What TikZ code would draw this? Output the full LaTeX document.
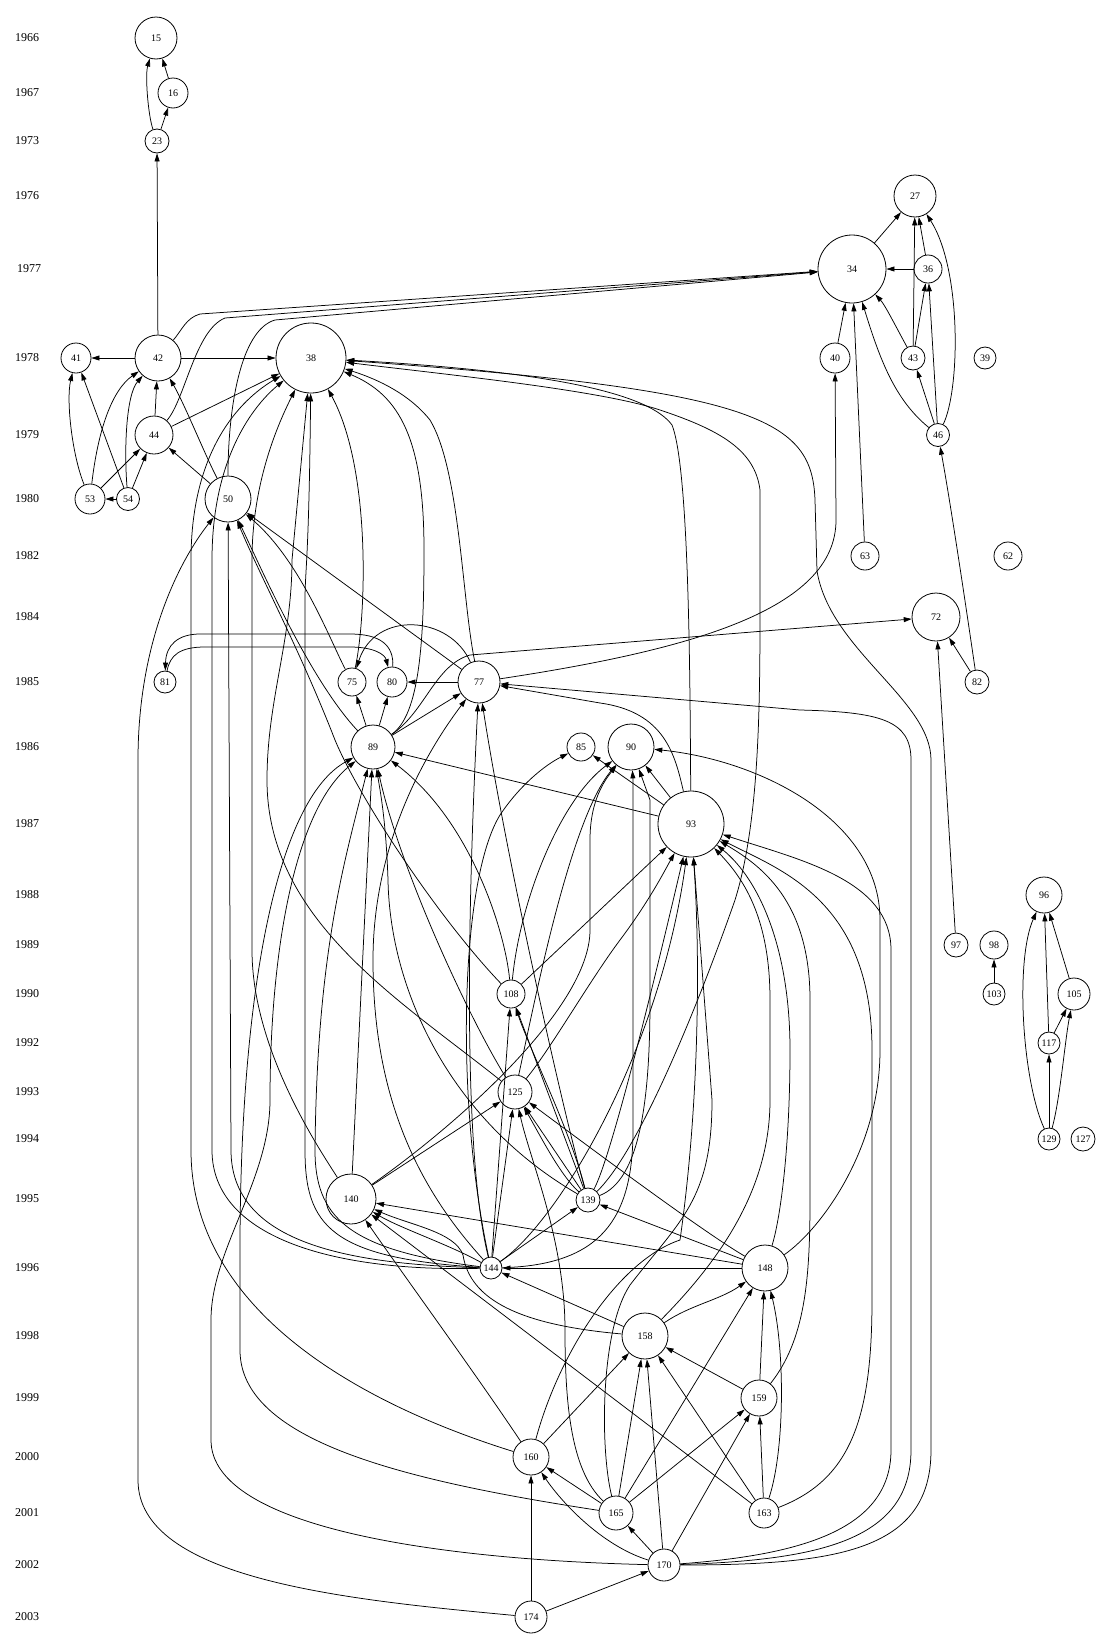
\documentclass[tikz,border=0pt]{standalone}
\usepackage{fontspec}
\setmainfont{Liberation Serif}
\usetikzlibrary{arrows.meta}
\begin{document}
\begin{tikzpicture}[x=1pt,y=-1pt,
  nd/.style={circle,draw,line width=0.8pt,inner sep=0pt,font=\fontsize{10}{12}\selectfont},
  yr/.style={font=\fontsize{12}{14}\selectfont},
  e/.style={draw,line width=0.75pt,-{Triangle[length=8pt,width=5pt]}}]
\path[use as bounding box] (0,0) rectangle (1100,1649);
% year labels
\node[yr] (y1966) at (27,38) {1966};
\node[yr] (y1967) at (27,93) {1967};
\node[yr] (y1973) at (27,141) {1973};
\node[yr] (y1976) at (27,196) {1976};
\node[yr] (y1977) at (29,269) {1977};
\node[yr] (y1978) at (27,358) {1978};
\node[yr] (y1979) at (27,435) {1979};
\node[yr] (y1980) at (27,499) {1980};
\node[yr] (y1982) at (27,556) {1982};
\node[yr] (y1984) at (27,617) {1984};
\node[yr] (y1985) at (27,682) {1985};
\node[yr] (y1986) at (27,747) {1986};
\node[yr] (y1987) at (27,824) {1987};
\node[yr] (y1988) at (27,895) {1988};
\node[yr] (y1989) at (27,945) {1989};
\node[yr] (y1990) at (27,994) {1990};
\node[yr] (y1992) at (27,1043) {1992};
\node[yr] (y1993) at (27,1092) {1993};
\node[yr] (y1994) at (27,1139) {1994};
\node[yr] (y1995) at (27,1199) {1995};
\node[yr] (y1996) at (27,1268) {1996};
\node[yr] (y1998) at (27,1336) {1998};
\node[yr] (y1999) at (27,1398) {1999};
\node[yr] (y2000) at (27,1457) {2000};
\node[yr] (y2001) at (27,1513) {2001};
\node[yr] (y2002) at (27,1565) {2002};
\node[yr] (y2003) at (27,1617) {2003};
% nodes
\node[nd,minimum size=42pt] (n15) at (156,38) {15};
\node[nd,minimum size=30pt] (n16) at (173,93) {16};
\node[nd,minimum size=24pt] (n23) at (157,141) {23};
\node[nd,minimum size=42pt] (n27) at (915,196) {27};
\node[nd,minimum size=68pt] (n34) at (852,269) {34};
\node[nd,minimum size=28pt] (n36) at (928,269) {36};
\node[nd,minimum size=70pt] (n38) at (311,358) {38};
\node[nd,minimum size=22pt] (n39) at (985,358) {39};
\node[nd,minimum size=30pt] (n40) at (835,358) {40};
\node[nd,minimum size=30pt] (n41) at (76,358) {41};
\node[nd,minimum size=46pt] (n42) at (158,358) {42};
\node[nd,minimum size=24pt] (n43) at (913,358) {43};
\node[nd,minimum size=38pt] (n44) at (154,435) {44};
\node[nd,minimum size=23pt] (n46) at (938,435) {46};
\node[nd,minimum size=46pt] (n50) at (228,499) {50};
\node[nd,minimum size=30pt] (n53) at (90,499) {53};
\node[nd,minimum size=23pt] (n54) at (128,499) {54};
\node[nd,minimum size=28pt] (n62) at (1008,556) {62};
\node[nd,minimum size=28pt] (n63) at (865,556) {63};
\node[nd,minimum size=48pt] (n72) at (936,617) {72};
\node[nd,minimum size=28pt] (n75) at (352,682) {75};
\node[nd,minimum size=42pt] (n77) at (479,682) {77};
\node[nd,minimum size=30pt] (n80) at (392,682) {80};
\node[nd,minimum size=22pt] (n81) at (165,682) {81};
\node[nd,minimum size=24pt] (n82) at (977,682) {82};
\node[nd,minimum size=28pt] (n85) at (581,747) {85};
\node[nd,minimum size=44pt] (n89) at (373,747) {89};
\node[nd,minimum size=46pt] (n90) at (631,747) {90};
\node[nd,minimum size=66pt] (n93) at (691,824) {93};
\node[nd,minimum size=36pt] (n96) at (1044,895) {96};
\node[nd,minimum size=24pt] (n97) at (956,945) {97};
\node[nd,minimum size=28pt] (n98) at (994,945) {98};
\node[nd,minimum size=22pt] (n103) at (994,994) {103};
\node[nd,minimum size=32pt] (n105) at (1074,994) {105};
\node[nd,minimum size=28pt] (n108) at (511,994) {108};
\node[nd,minimum size=22pt] (n117) at (1049,1043) {117};
\node[nd,minimum size=34pt] (n125) at (515,1092) {125};
\node[nd,minimum size=24pt] (n127) at (1083,1139) {127};
\node[nd,minimum size=22pt] (n129) at (1049,1139) {129};
\node[nd,minimum size=24pt] (n139) at (588,1200) {139};
\node[nd,minimum size=50pt] (n140) at (351,1199) {140};
\node[nd,minimum size=22pt] (n144) at (491,1268) {144};
\node[nd,minimum size=46pt] (n148) at (765,1268) {148};
\node[nd,minimum size=46pt] (n158) at (645,1336) {158};
\node[nd,minimum size=36pt] (n159) at (759,1398) {159};
\node[nd,minimum size=36pt] (n160) at (531,1457) {160};
\node[nd,minimum size=30pt] (n163) at (764,1513) {163};
\node[nd,minimum size=34pt] (n165) at (616,1513) {165};
\node[nd,minimum size=32pt] (n170) at (664,1565) {170};
\node[nd,minimum size=32pt] (n174) at (531,1617) {174};
% ---- top edges
\draw[e] (n16) -- (n15);
\draw[e] (n23) .. controls (148,115) and (145,75) .. (n15);
\draw[e] (n23) -- (n16);
\draw[e] (n42) -- (n23);
\draw[e] (n42) -- (n41);
\draw[e] (n42) -- (n38);
\draw[e] (n44) -- (n42);
\draw[e] (n53) .. controls (72,455) and (66,400) .. (n41);
\draw[e] (n53) .. controls (98,430) and (112,390) .. (n42);
\draw[e] (n53) -- (n44);
\draw[e] (n54) -- (n53);
\draw[e] (n54) -- (n41);
\draw[e] (n54) .. controls (124,450) and (126,395) .. (n42);
\draw[e] (n54) -- (n44);
\draw[e] (n50) .. controls (205,455) and (185,405) .. (n42);
\draw[e] (n50) -- (n44);
\draw[e] (n44) -- (n38);
\draw[e] (n42) .. controls (182,330) and (186,318) .. (200,314) -- (n34);
\draw[e] (n44) .. controls (185,400) and (195,330) .. (225,318) -- (n34);
\draw[e] (n50) .. controls (228,410) and (240,330) .. (275,320) -- (n34);
\draw[e] (n34) -- (n27);
\draw[e] (n36) -- (n34);
\draw[e] (n36) -- (n27);
\draw[e] (n43) -- (n27);
\draw[e] (n43) -- (n36);
\draw[e] (n43) .. controls (895,325) and (885,305) .. (n34);
\draw[e] (n46) -- (n43);
\draw[e] (n46) -- (n36);
\draw[e] (n46) .. controls (895,400) and (880,360) .. (n34);
\draw[e] (n46) .. controls (960,390) and (962,270) .. (n27);
\draw[e] (n40) -- (n34);
\draw[e] (n63) -- (n34);
\draw[e] (n82) -- (n72);
\draw[e] (n82) .. controls (965,600) and (950,500) .. (n46);
\draw[e] (n97) -- (n72);
\draw[e] (n103) -- (n98);
\draw[e] (n105) -- (n96);
\draw[e] (n117) -- (n96);
\draw[e] (n117) -- (n105);
\draw[e] (n129) .. controls (1022,1080) and (1015,960) .. (n96);
\draw[e] (n129) -- (n117);
\draw[e] (n129) .. controls (1060,1100) and (1065,1040) .. (n105);
% ---- middle edges
\draw[e] (n75) .. controls (330,640) and (300,560) .. (n50);
\draw[e] (n77) -- (n50);
\draw[e] (n77) .. controls (462,600) and (460,470) .. (430,420) .. controls (410,395) and (380,380) .. (n38);
\draw[e] (n75) .. controls (366,620) and (372,470) .. (n38);
\draw[e] (n77) -- (n80);
\draw[e] (n77) .. controls (450,615) and (375,610) .. (n75);
\draw[e] (n77) .. controls (690,650) and (836,610) .. (836,520) -- (n40);
\draw[e] (n89) .. controls (425,712) and (435,665) .. (470,655) -- (n72);
\draw[e] (n89) -- (n75);
\draw[e] (n89) -- (n80);
\draw[e] (n89) -- (n77);
\draw[e] (n89) .. controls (310,680) and (262,570) .. (n50);
\draw[e] (n89) .. controls (420,715) and (424,640) .. (424,550) .. controls (424,440) and (400,395) .. (n38);
\draw[e] (n81) .. controls (170,655) and (180,647) .. (205,647) -- (350,647) .. controls (375,647) and (385,655) .. (n80);
\draw[e] (n80) .. controls (394,645) and (380,634) .. (350,634) -- (200,634) .. controls (178,634) and (166,645) .. (n81);
\draw[e] (n93) -- (n89);
\draw[e] (n93) -- (n90);
\draw[e] (n93) -- (n85);
\draw[e] (n93) .. controls (675,755) and (665,712) .. (600,703) -- (n77);
\draw[e] (n93) .. controls (690,700) and (690,470) .. (672,425) .. controls (650,395) and (560,372) .. (n38);
\draw[e] (n108) .. controls (440,920) and (360,800) .. (335,740) .. controls (300,650) and (262,580) .. (n50);
\draw[e] (n108) .. controls (505,930) and (470,820) .. (n89);
\draw[e] (n108) .. controls (520,900) and (560,800) .. (n90);
\draw[e] (n108) -- (n93);
\draw[e] (n125) .. controls (400,1000) and (267,920) .. (267,780) .. controls (267,700) and (292,640) .. (292,560) -- (n38);
\draw[e] (n125) .. controls (470,1020) and (400,870) .. (n89);
\draw[e] (n125) .. controls (535,1000) and (570,820) .. (n90);
\draw[e] (n125) .. controls (550,1050) and (590,980) .. (620,940) .. controls (650,900) and (665,870) .. (n93);
\draw[e] (n139) .. controls (640,1150) and (700,1000) .. (735,900) .. controls (760,820) and (760,700) .. (760,600) -- (760,490) .. controls (755,450) and (720,430) .. (660,410) .. controls (600,390) and (450,375) .. (n38);
\draw[e] (n139) .. controls (560,1100) and (505,850) .. (n77);
\draw[e] (n139) -- (n108);
\draw[e] (n139) .. controls (570,1130) and (530,1050) .. (n108);
\draw[e] (n139) -- (n125);
\draw[e] (n139) .. controls (560,1175) and (540,1135) .. (n125);
\draw[e] (n139) .. controls (640,1180) and (650,1100) .. (650,1000) -- (650,800) -- (n90);
\draw[e] (n139) .. controls (610,1160) and (650,1000) .. (n93);
\draw[e] (n139) .. controls (450,1120) and (390,990) .. (388,880) .. controls (386,820) and (380,790) .. (n89);
\draw[e] (n140) -- (n89);
\draw[e] (n140) .. controls (320,1150) and (252,1050) .. (252,950) -- (252,560) .. controls (252,480) and (280,420) .. (n38);
\draw[e] (n140) -- (n125);
\draw[e] (n140) .. controls (450,1130) and (590,1010) .. (590,930) -- (590,840) .. controls (590,800) and (605,780) .. (n90);
% ---- lower edges
\draw[e] (n144) -- (n139);
\draw[e] (n144) -- (n125);
\draw[e] (n144) -- (n108);
\draw[e] (n144) .. controls (450,1245) and (400,1228) .. (n140);
\draw[e] (n144) .. controls (345,1250) and (315,1215) .. (315,1150) .. controls (317,950) and (345,860) .. (n89);
\draw[e] (n144) .. controls (330,1258) and (305,1225) .. (305,1150) -- (305,600) .. controls (305,570) and (309,560) .. (n38);
\draw[e] (n144) .. controls (462,1150) and (468,900) .. (n77);
\draw[e] (n144) .. controls (420,1190) and (373,1100) .. (373,960) .. controls (373,850) and (420,760) .. (n77);
\draw[e] (n144) .. controls (560,1220) and (660,1050) .. (n93);
\draw[e] (n144) .. controls (600,1265) and (633,1220) .. (633,1130) -- (633,780) -- (n90);
\draw[e] (n144) .. controls (455,1100) and (460,880) .. (500,815) .. controls (520,785) and (545,765) .. (n85);
\draw[e] (n144) .. controls (340,1272) and (212,1240) .. (212,1150) -- (212,560) .. controls (212,450) and (260,400) .. (n38);
\draw[e] (n144) .. controls (340,1264) and (231,1240) .. (231,1150) -- (n50);
\draw[e] (n148) -- (n144);
\draw[e] (n148) -- (n139);
\draw[e] (n148) -- (n140);
\draw[e] (n148) .. controls (700,1230) and (580,1140) .. (n125);
\draw[e] (n148) .. controls (820,1230) and (880,1150) .. (880,1050) -- (880,920) .. controls (880,820) and (760,760) .. (n90);
\draw[e] (n148) .. controls (780,1220) and (790,1150) .. (790,1050) .. controls (790,950) and (760,880) .. (n93);
\draw[e] (n158) .. controls (690,1305) and (720,1300) .. (n148);
\draw[e] (n158) -- (n144);
\draw[e] (n158) .. controls (520,1325) and (470,1300) .. (463,1255) .. controls (455,1232) and (410,1225) .. (n140);
\draw[e] (n158) .. controls (730,1250) and (770,1180) .. (770,1100) -- (770,1000) .. controls (770,920) and (745,880) .. (n93);
\draw[e] (n159) -- (n158);
\draw[e] (n159) -- (n148);
\draw[e] (n159) .. controls (805,1340) and (810,1280) .. (810,1200) -- (810,1000) .. controls (810,900) and (760,865) .. (n93);
\draw[e] (n160) .. controls (380,1410) and (191,1320) .. (191,1150) -- (191,560) .. controls (191,450) and (240,400) .. (n38);
\draw[e] (n160) .. controls (480,1380) and (400,1270) .. (n140);
\draw[e] (n160) .. controls (560,1350) and (620,1260) .. (680,1240) .. controls (700,1100) and (700,950) .. (n93);
\draw[e] (n160) -- (n158);
\draw[e] (n165) -- (n158);
\draw[e] (n165) -- (n148);
\draw[e] (n165) -- (n159);
\draw[e] (n165) -- (n160);
\draw[e] (n165) .. controls (400,1480) and (240,1440) .. (240,1350) -- (240,1250) .. controls (240,1000) and (275,800) .. (n89);
\draw[e] (n165) .. controls (570,1470) and (565,1400) .. (565,1330) .. controls (565,1240) and (530,1160) .. (n125);
\draw[e] (n165) .. controls (600,1450) and (600,1330) .. (630,1285) .. controls (680,1220) and (712,1200) .. (712,1100) -- (n93);
\draw[e] (n163) -- (n159);
\draw[e] (n163) .. controls (785,1450) and (785,1350) .. (n148);
\draw[e] (n163) -- (n158);
\draw[e] (n163) -- (n140);
\draw[e] (n163) .. controls (850,1480) and (872,1420) .. (872,1300) -- (872,1050) .. controls (872,900) and (780,870) .. (n93);
\draw[e] (n170) -- (n165);
\draw[e] (n170) -- (n158);
\draw[e] (n170) -- (n159);
\draw[e] (n170) .. controls (600,1545) and (560,1500) .. (n160);
\draw[e] (n170) .. controls (450,1560) and (211,1530) .. (211,1440) -- (211,1320) .. controls (211,1250) and (270,1180) .. (270,1100) .. controls (270,950) and (295,810) .. (n89);
\draw[e] (n170) .. controls (800,1555) and (891,1530) .. (891,1450) -- (891,950) .. controls (891,880) and (800,860) .. (n93);
\draw[e] (n170) .. controls (820,1560) and (911,1540) .. (911,1450) -- (911,760) .. controls (911,720) and (880,712) .. (800,710) -- (n77);
\draw[e] (n170) .. controls (840,1565) and (931,1550) .. (931,1450) -- (931,760) .. controls (931,700) and (830,650) .. (817,571) -- (815,500) .. controls (812,420) and (760,390) .. (n38);
\draw[e] (n174) -- (n160);
\draw[e] (n174) -- (n170);
\draw[e] (n174) .. controls (350,1600) and (138,1580) .. (138,1480) -- (138,760) .. controls (138,640) and (180,560) .. (n50);
\end{tikzpicture}
\end{document}
